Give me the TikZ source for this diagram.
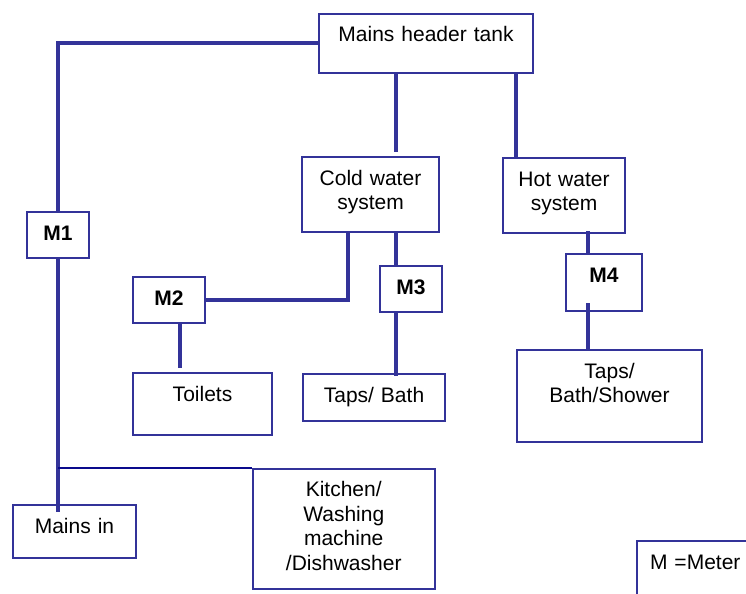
\documentclass[tikz,border=0pt]{standalone}
\usepackage{fontspec}
\setmainfont{Liberation Sans}
\usetikzlibrary{calc}
\definecolor{bl}{RGB}{51,51,153}
\definecolor{navy}{RGB}{10,10,140}
\tikzset{
  box/.style n args={2}{draw=bl, line width=2bp, anchor=north west, inner sep=0pt,
    text width=#1 bp, minimum width=#1 bp, align=center,
    text height=28bp, text depth={(#2-28)*1bp},
    font=\fontsize{21bp}{24.5bp}\selectfont},
  pipe/.style={draw=bl, line width=4bp},
  thinpipe/.style={draw=navy, line width=1.4bp}
}
\begin{document}
\begin{tikzpicture}[x=1bp,y=-1bp]
\useasboundingbox (0,0) rectangle (746,594);
\clip (0,0) rectangle (746,594);
\fill[white] (0,0) rectangle (746,594);
% boxes
\node[box={214}{59}] (tank) at (318,13) {Mains header tank};
\node[box={137}{75}] (cold) at (301,156) {Cold water\\system};
\node[box={122}{75}] (hot) at (502,157) {Hot water\\system};
\node[box={62}{46}] (m1) at (26,211) {\bfseries M1};
\node[box={72}{46}] (m2) at (132,276) {\bfseries M2\hspace*{16bp}};
\node[box={62}{46}] (m3) at (379,265) {\bfseries M3\hspace*{6bp}};
\node[box={76}{57}] (m4) at (565,253) {\bfseries M4\hspace*{16bp}};
\node[box={139}{62}] (toilets) at (132,372) {Toilets};
\node[box={142}{47}] (taps) at (302,373) {Taps/ Bath};
\node[box={185}{92}] (shower) at (516,349) {Taps/\\Bath/Shower};
\node[box={182}{120}, line width=1.5bp] (kitchen) at (252,468) {Kitchen/\\Washing\\machine\\/Dishwasher};
\node[box={123}{53}] (mainsin) at (12,504) {Mains in};
\node[box={140}{90}, align=left] (meter) at (636,540) {\hspace*{13bp}M =Meter};
% x positions of vertical pipes
\coordinate (xa) at (396,0);
\coordinate (xb) at (348,0);
\coordinate (xc) at (588,0);
\coordinate (xd) at (180,0);
\coordinate (xe) at (516,0);
% connectors
\draw[pipe] (tank.west) -| (m1.north);
\draw[pipe] (m1.south) -- ($(m1.south |- mainsin.north)+(0,8)$);
\draw[thinpipe] (m1.south |- kitchen.north west) -- (kitchen.north west);
\draw[pipe] (tank.south -| xa) -- ($(cold.north -| xa)+(0,-4)$);
\draw[pipe] (tank.south -| xe) -- (hot.north -| xe);
\draw[pipe] (cold.south -| xb) |- (m2.east);
\draw[pipe] ($(cold.south -| xa)+(0,-2)$) -- (m3.north -| xa);
\draw[pipe] ($(hot.south -| xc)+(0,-3)$) -- (m4.north -| xc);
\draw[pipe] ($(m4.south -| xc)+(0,-9)$) -- (shower.north -| xc);
\draw[pipe] (m2.south -| xd) -- ($(toilets.north -| xd)+(0,-4)$);
\draw[pipe] (m3.south -| xa) -- ($(taps.north -| xa)+(0,3)$);
\end{tikzpicture}
\end{document}
